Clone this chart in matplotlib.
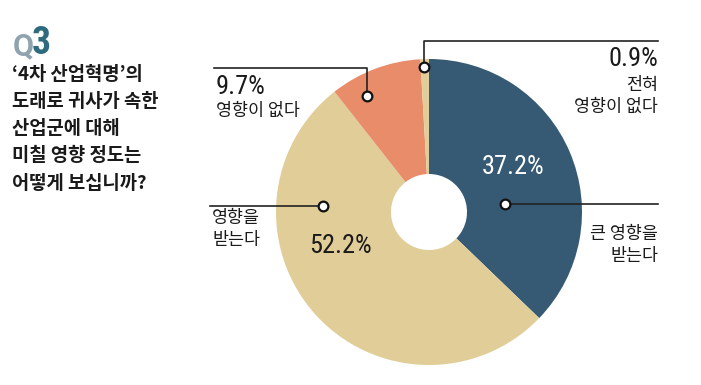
import matplotlib
matplotlib.use("Agg")
import matplotlib.pyplot as plt

plt.rcParams['font.family'] = ['Noto Sans CJK KR', 'DejaVu Sans']

# data
labels = ['큰 영향을\n받는다', '영향을\n받는다', '영향이 없다', '전혀\n영향이 없다']
values = [37.2, 52.2, 9.7, 0.9]
colors = ['#365a74', '#e0cd98', '#e98c6a', '#e0cd98']
title_lines = ['‘4차 산업혁명’의', '도래로 귀사가 속한', '산업군에 대해', '미칠 영향 정도는', '어떻게 보십니까?']

W, H = 701, 385
fig = plt.figure(figsize=(W / 100, H / 100), dpi=100)
ax = fig.add_axes([0, 0, 1, 1])


def py(y):
    # pixel row from top -> data y
    return H - y


cx, cy, R, r_in = 429, py(212), 153, 38
ax.pie(values, colors=colors, startangle=90, counterclock=False,
       center=(cx, cy), radius=R, frame=True,
       wedgeprops=dict(width=R - r_in, linewidth=0))
ax.set_xlim(0, W)
ax.set_ylim(0, H)
ax.set_aspect('equal')
ax.axis('off')

narrow = ['Liberation Sans Narrow', 'DejaVu Sans Condensed', 'Roboto Condensed', 'Roboto', 'DejaVu Sans']

# title
ax.text(13, py(46), 'Q', fontsize=22, color='#8fa3af', fontweight='bold',
        ha='left', va='center', family=['Roboto', 'DejaVu Sans'])
ax.text(32, py(43), '3', fontsize=27, color='#2f6b7e', fontweight='bold',
        ha='left', va='center', family=narrow)
for i, line in enumerate(title_lines):
    ax.text(12, py(74 + i * 27.3), line, fontsize=13.5, fontweight='bold',
            color='#1a1a1a', ha='left', va='center')

lc = '#222222'

# leader lines and dots
leaders = [
    [(505, 204), (658, 204)],
    [(323, 206), (210, 206)],
    [(367, 96), (367, 68), (214, 68)],
    [(424, 67), (424, 41), (658, 41)],
]
for pts in leaders:
    ax.plot([p[0] for p in pts], [py(p[1]) for p in pts], color=lc, lw=1.2,
            zorder=3)
    ax.plot(pts[0][0], py(pts[0][1]), 'o', ms=7, mfc='white', mec='#111111',
            mew=1.6, zorder=4)

# percentage labels
pk = dict(fontsize=19, family=narrow, va='center')
ax.text(513, py(167), f'{values[0]}%', color='white', ha='center', **pk)
ax.text(340, py(246), f'{values[1]}%', color='#1a1a1a', ha='center', **pk)
ax.text(216, py(87), f'{values[2]}%', color='#1a1a1a', ha='left', **pk)
ax.text(658, py(59), f'{values[3]}%', color='#1a1a1a', ha='right', **pk)

# category labels
kw = dict(fontsize=12.5, color='#1a1a1a', va='center', linespacing=1.25)
ax.text(658, py(245), labels[0], ha='right', multialignment='right', **kw)
ax.text(212, py(229), labels[1], ha='left', multialignment='left', **kw)
ax.text(216, py(111), labels[2], ha='left', **kw)
ax.text(658, py(96), labels[3], ha='right', multialignment='right', **kw)

fig.savefig('out.png', dpi=100)
